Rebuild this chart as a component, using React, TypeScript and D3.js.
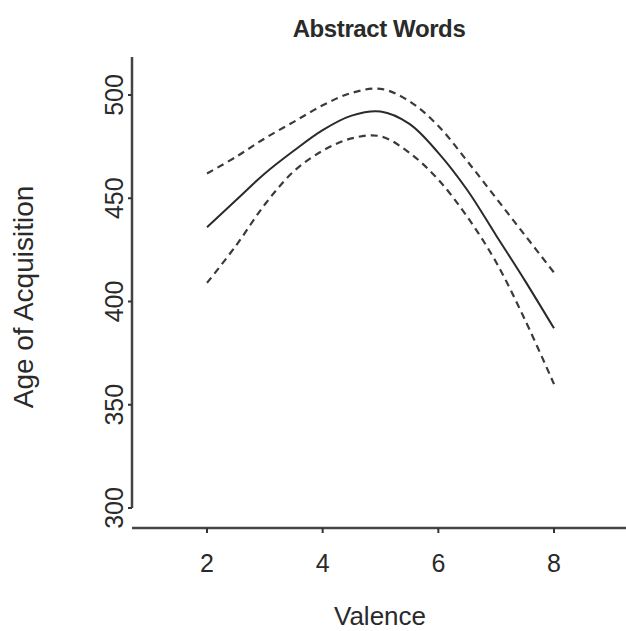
import React from "react";
import * as d3 from "d3";

const valence = [2, 2.5, 3, 3.5, 4, 4.5, 5, 5.5, 6, 6.5, 7, 7.5, 8];
const fit = [436, 449, 462, 473, 483, 490, 492, 486, 472, 454, 432, 410, 387];
const upper = [462, 470, 479, 487, 495, 501, 503, 497, 485, 468, 450, 432, 414];
const lower = [409, 427, 447, 463, 473, 479, 480, 472, 459, 441, 419, 391, 360];
const xTicks = [2, 4, 6, 8];
const yTicks = [300, 350, 400, 450, 500];
const title = "Abstract Words";
const xLabel = "Valence";
const yLabel = "Age of Acquisition";

export default function App() {
  const W = 626, H = 631;
  const x = d3.scaleLinear().domain([2, 8]).range([207, 554]);
  const y = d3.scaleLinear().domain([300, 500]).range([508, 95]);
  const axisX0 = 132;
  const axisY0 = 528;
  const font = "'Liberation Sans', Arial, sans-serif";
  const ink = "#2a2a2a";

  const mk = (vals: number[]) =>
    d3.line<number>().x((_, i) => x(valence[i])).y((d) => y(d)).curve(d3.curveCatmullRom)(vals) || "";

  return (
    <svg width={W} height={H} style={{ position: "absolute", left: 0, top: 0, background: "#fff" }}>
      <rect width={W} height={H} fill="#fff" />
      <text x={379} y={37} textAnchor="middle" fontFamily={font} fontSize={24} fontWeight="bold" fill={ink} letterSpacing={-0.4}>
        {title}
      </text>
      {/* y axis */}
      <line x1={axisX0} x2={axisX0} y1={57} y2={y(300)} stroke="#444" strokeWidth={2.5} />
      {yTicks.map((t) => (
        <g key={t}>
          <line x1={axisX0 - 4} x2={axisX0} y1={y(t)} y2={y(t)} stroke="#333" strokeWidth={2} />
          <text
            transform={`translate(${123},${y(t)}) rotate(-90)`}
            textAnchor="middle"
            fontFamily={font}
            fontSize={25}
            fill={ink}
          >
            {t}
          </text>
        </g>
      ))}
      {/* x axis */}
      <line x1={axisX0} x2={W} y1={axisY0} y2={axisY0} stroke="#444" strokeWidth={2.5} />
      {xTicks.map((t) => (
        <g key={t}>
          <line x1={x(t)} x2={x(t)} y1={axisY0} y2={axisY0 + 5} stroke="#333" strokeWidth={2} />
          <text x={x(t)} y={572} textAnchor="middle" fontFamily={font} fontSize={25} fill={ink}>
            {t}
          </text>
        </g>
      ))}
      <text x={380} y={625} textAnchor="middle" fontFamily={font} fontSize={26} fill={ink}>
        {xLabel}
      </text>
      <text transform={`translate(33,297) rotate(-90)`} textAnchor="middle" fontFamily={font} fontSize={28} fill={ink}>
        {yLabel}
      </text>
      {/* curves */}
      <path d={mk(fit)} fill="none" stroke="#2a2a2a" strokeWidth={2} />
      <path d={mk(upper)} fill="none" stroke="#3a3a3a" strokeWidth={2.2} strokeDasharray="7,5" />
      <path d={mk(lower)} fill="none" stroke="#3a3a3a" strokeWidth={2.2} strokeDasharray="7,5" />
    </svg>
  );
}
